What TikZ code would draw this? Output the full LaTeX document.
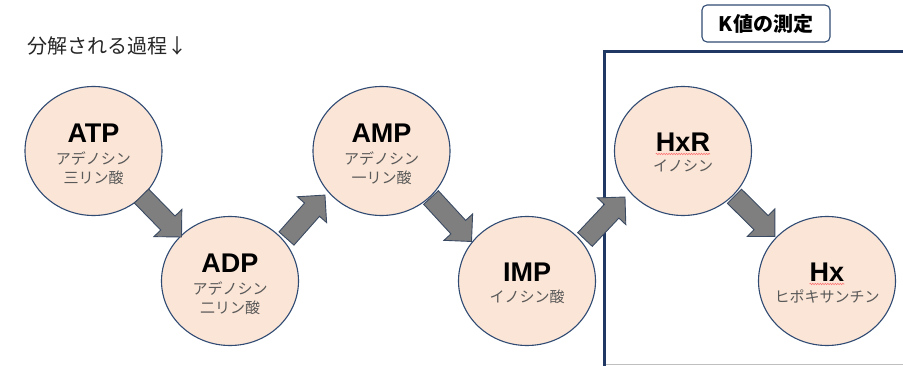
\documentclass[tikz,border=0pt]{standalone}
\usepackage{fontspec}
\setmainfont{Liberation Sans}
\newfontfamily\jp{Noto Sans CJK JP}
\usetikzlibrary{calc,shapes.geometric,decorations.pathmorphing}
\definecolor{circfill}{HTML}{FBE5D6}
\definecolor{circline}{HTML}{2F4A73}
\definecolor{navy}{HTML}{1F3864}
\definecolor{arrfill}{HTML}{7F7F7F}
\definecolor{arrline}{HTML}{3B4A63}
\definecolor{subgray}{HTML}{595959}
\newcommand\blockarrow[2]{%
  \draw[blockarr] let \p1=($(#2)-(#1)$), \n1={atan2(\y1,\x1)}, \n2={veclen(\x1,\y1)} in
   {[shift={(#1)}, rotate=\n1] (0,-10) -- ({\n2-19.5},-10) -- ({\n2-19.5},-19.5) -- (\n2,0)
     -- ({\n2-19.5},19.5) -- ({\n2-19.5},10) -- (0,10) -- cycle};}
\tikzset{
  stage/.style={ellipse, draw=circline, line width=1.1pt, fill=circfill,
    minimum width=137pt, minimum height=129pt, inner sep=0pt},
  mainlbl/.style={font=\fontsize{27}{27}\selectfont\bfseries, anchor=base, inner sep=0pt},
  sublbl/.style={font=\jp\fontsize{15}{15}\selectfont, text=subgray, anchor=base, inner sep=0pt},
  blockarr/.style={fill=arrfill, draw=arrline, line width=0.9pt, line join=miter},
  spell/.style={draw=red!55, line width=0.6pt, decorate,
    decoration={snake, amplitude=0.7pt, segment length=2.5pt}},
  titlelbl/.style={font=\jp\fontsize{20}{20}\selectfont, text=black!85, anchor=west, inner sep=0pt},
  kboxstyle/.style={draw=circline, line width=1.1pt, rounded corners=5pt,
    minimum width=128pt, minimum height=37pt, inner sep=0pt,
    font=\jp\bfseries\fontsize{20}{20}\selectfont},
  framestyle/.style={draw=navy, line width=3pt},
}
\begin{document}
\begin{tikzpicture}[x=1pt,y=-1pt]
\useasboundingbox[fill=white] (0,0) rectangle (903,366);

% title and K label
\node[titlelbl] (title) at (27,46) {分解される過程↓};
\node[kboxstyle] (kval) at (766,23.5) {K値の測定};

% frame
\coordinate (fb) at (604,367);
\coordinate (ftl) at (604,52);
\coordinate (ftr) at (906,52);
\draw[draw=black!25, line width=0.8pt] (604,364) -- (903,364);

% stages
\node[stage] (atp) at (93.5,151) {};
\node[stage] (adp) at (230,281) {};
\node[stage] (amp) at (381.5,151) {};
\node[stage] (imp) at (527,281) {};
\node[stage] (hxr) at (683,151) {};
\node[stage] (hx)  at (827,281) {};

\draw[framestyle] (fb) -- (ftl) -- (ftr);

% labels (two sub lines)
\foreach \n/\m/\a/\b in {atp/ATP/アデノシン/三リン酸, adp/ADP/アデノシン/二リン酸, amp/AMP/アデノシン/一リン酸}{
  \node[mainlbl] (\n-l) at ($(\n)+(0,-8)$) {\m};
  \node[sublbl] (\n-s1) at ($(\n)+(0,13.7)$) {\a};
  \node[sublbl] (\n-s2) at ($(\n)+(0,32.5)$) {\b};
}
% labels (one sub line)
\foreach \n/\m/\a in {imp/IMP/イノシン酸, hxr/HxR/イノシン, hx/Hx/ヒポキサンチン}{
  \node[mainlbl] (\n-l) at ($(\n)+(0,0.5)$) {\m};
  \node[sublbl] (\n-s1) at ($(\n)+(0,21)$) {\a};
}
\draw[spell] ([yshift=-2.5pt]hxr-l.base west) -- ([yshift=-2.5pt]hxr-l.base east);
\draw[spell] ([yshift=-2.5pt]hx-l.base west) -- ([yshift=-2.5pt]hx-l.base east);

% arrows
\coordinate (t1) at ($(atp)+(48,45)$);   \coordinate (h1) at ($(adp)+(-48.5,-44)$);
\coordinate (t2) at ($(adp)+(56.5,-42.5)$); \coordinate (h2) at ($(amp)+(-56.5,44)$);
\coordinate (t3) at ($(amp)+(49.5,46.5)$); \coordinate (h3) at ($(imp)+(-55.5,-39.5)$);
\coordinate (t4) at ($(imp)+(58,-41.5)$);  \coordinate (h4) at ($(hxr)+(-58,46)$);
\coordinate (t5) at ($(hxr)+(51.5,45.3)$); \coordinate (h5) at ($(hx)+(-52,-44.5)$);
\blockarrow{t1}{h1}
\blockarrow{t2}{h2}
\blockarrow{t3}{h3}
\blockarrow{t4}{h4}
\blockarrow{t5}{h5}
\end{tikzpicture}
\end{document}
